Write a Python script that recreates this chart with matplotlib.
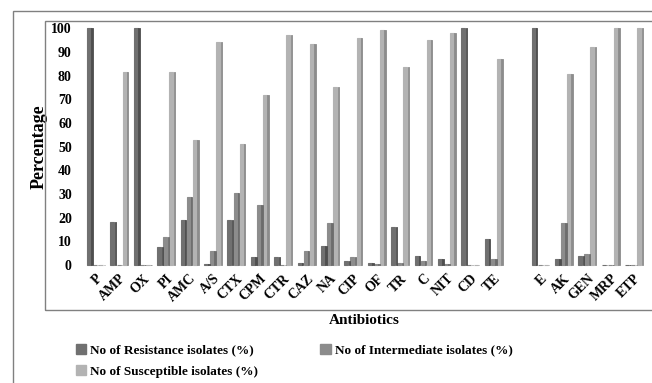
import numpy as np
import matplotlib
matplotlib.use("Agg")
import matplotlib.pyplot as plt
from matplotlib.patches import Rectangle, Patch

# data (blank slot between TE and E)
antibiotics = ["P", "AMP", "OX", "PI", "AMC", "A/S", "CTX", "CPM", "CTR", "CAZ", "NA", "CIP",
               "OF", "TR", "C", "NIT", "CD", "TE", "", "E", "AK", "GEN", "MRP", "ETP"]
resistance = [100, 18.3, 100, 7.5, 19, 0.3, 19, 3.2, 3.2, 1, 8.2, 1.8,
              1, 16.2, 3.9, 2.5, 100, 11.1, np.nan, 100, 2.5, 3.9, 0, 0]
intermediate = [0, 0, 0, 11.8, 28.9, 6, 30.6, 25.5, 0, 6, 17.6, 3.2,
                0.3, 1, 1.8, 0.3, 0, 2.7, np.nan, 0, 17.6, 4.8, 0, 0]
susceptible = [0, 81.5, 0, 81.5, 52.7, 94.2, 51.3, 72, 97.3, 93.5, 75.1, 95.8,
               99.3, 83.8, 95, 98.2, 0, 87.2, np.nan, 0, 80.8, 92.3, 100, 100]
series_names = ["No of Resistance isolates (%)", "No of Intermediate isolates (%)",
                "No of Susceptible isolates (%)"]

front = ["#707070", "#8c8c8c", "#b3b3b3"]
side = ["#4e4e4e", "#6c6c6c", "#8c8c8c"]

plt.rcParams['font.family'] = ['Liberation Serif', 'DejaVu Serif']
plt.rcParams['font.weight'] = 'bold'

fig = plt.figure(figsize=(6.52, 3.83), dpi=100)
W, H = 652, 383
# outer frame and plot-area frame
fig.patches.append(Rectangle((12.7 / W, -0.1), 1, 1 - 11 / H + 0.1, transform=fig.transFigure,
                             fill=False, edgecolor="#808080", lw=1))
fig.patches.append(Rectangle((45 / W, 1 - 310 / H), 1, (310 - 21) / H, transform=fig.transFigure,
                             fill=False, edgecolor="#808080", lw=1))

ax = fig.add_axes([84.3 / W, 1 - 265 / H, (645.7 - 84.3) / W, (265 - 28.3) / H])
x = np.arange(len(antibiotics))
bw = 0.26
for k, vals in enumerate([resistance, intermediate, susceptible]):
    pos = x + (k - 1) * bw
    ax.bar(pos - 0.035, vals, width=bw - 0.09, color=front[k], edgecolor=front[k], lw=0.8,
           label=series_names[k], zorder=3 - k * 0.1, clip_on=False)
    ax.bar(pos + bw / 2 - 0.035, vals, width=0.06, color=side[k], edgecolor=side[k], lw=0.6,
           zorder=3 - k * 0.1, clip_on=False)

ax.set_xlim(-0.5, len(antibiotics) - 0.5)
ax.set_ylim(0, 100)
ax.set_yticks(range(0, 101, 10))
ax.set_xticks(x)
ax.set_xticklabels(antibiotics, rotation=45, ha="right", rotation_mode="anchor", fontsize=9)
ax.tick_params(length=0, labelsize=10)
ax.tick_params(axis="y", pad=9)
ax.tick_params(axis="x", pad=5)
for s in ax.spines.values():
    s.set_visible(False)
ax.set_ylabel("Percentage", fontsize=13, fontweight="bold")
ax.yaxis.set_label_coords(-0.066, 0.5)
fig.text(364 / W, 1 - 320 / H, "Antibiotics", ha="center", va="center", fontsize=11, fontweight="bold")

handles = [Patch(color=front[0]), Patch(color=front[2]), Patch(color=front[1])]
labels = [series_names[0], series_names[2], series_names[1]]
fig.legend(handles, labels, ncol=2, loc="upper left", bbox_to_anchor=(64 / W, 1 - 332 / H),
           frameon=False, fontsize=9.5, handlelength=0.8, handleheight=0.8, handletextpad=0.3,
           columnspacing=4.7, labelspacing=0.65)

fig.savefig("out.png", dpi=100)
